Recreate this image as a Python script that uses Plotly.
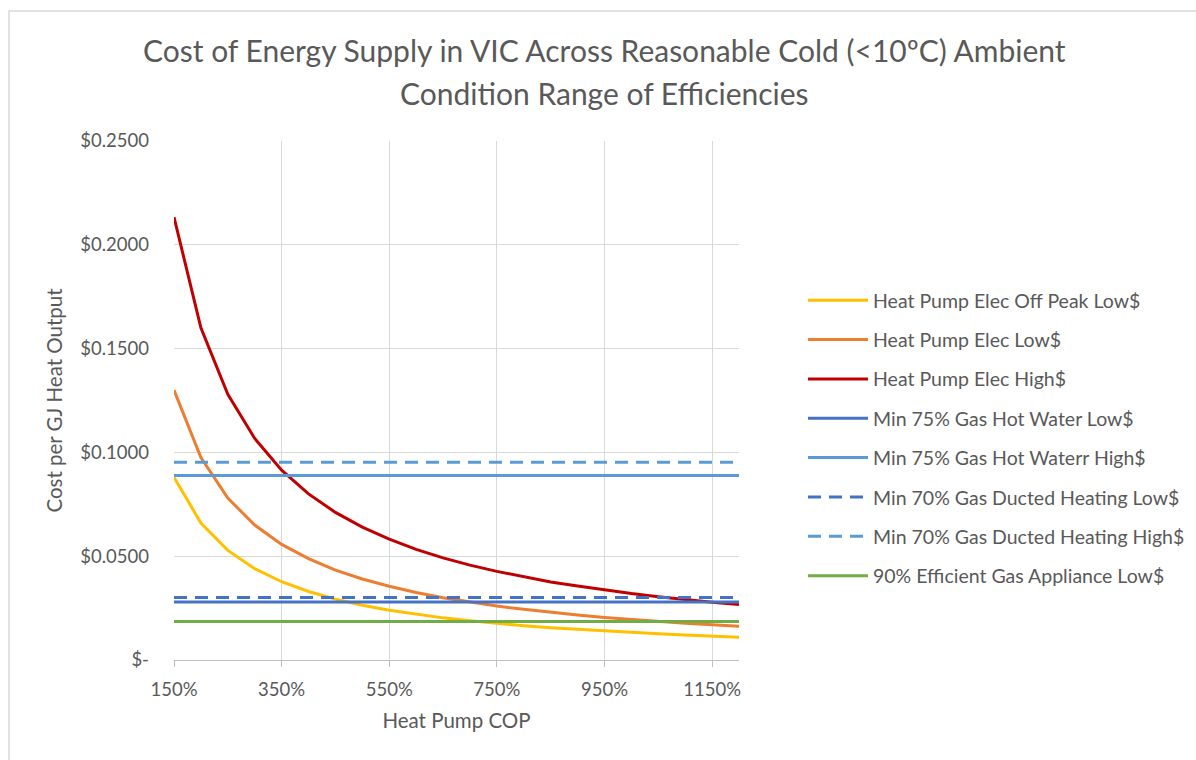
import plotly.graph_objects as go

# ---- data ----
cop_pct = [150, 200, 250, 300, 350, 400, 450, 500, 550, 600, 650, 700,
           750, 800, 850, 900, 950, 1000, 1050, 1100, 1150, 1200]

hp_offpeak_low = [0.0880, 0.0660, 0.0528, 0.0440, 0.0377, 0.0330, 0.0293, 0.0264,
                  0.0240, 0.0220, 0.0203, 0.0189, 0.0176, 0.0165, 0.0155, 0.0147,
                  0.0139, 0.0132, 0.0126, 0.0120, 0.0115, 0.0110]
hp_low = [0.1300, 0.0975, 0.0780, 0.0650, 0.0557, 0.0488, 0.0433, 0.0390,
          0.0355, 0.0325, 0.0300, 0.0279, 0.0260, 0.0244, 0.0229, 0.0217,
          0.0205, 0.0195, 0.0186, 0.0177, 0.0170, 0.0163]
hp_high = [0.2133, 0.1600, 0.1280, 0.1067, 0.0914, 0.0800, 0.0711, 0.0640,
           0.0582, 0.0533, 0.0492, 0.0457, 0.0427, 0.0400, 0.0376, 0.0356,
           0.0337, 0.0320, 0.0305, 0.0291, 0.0278, 0.0267]

gas_hw75_low = 0.0279
gas_hw75_high = 0.0889
gas_duct70_low = 0.0301
gas_duct70_high = 0.0953
gas_90_low = 0.0186

series_names = [
    "Heat Pump Elec Off Peak Low$",
    "Heat Pump Elec Low$",
    "Heat Pump Elec High$",
    "Min 75% Gas Hot Water Low$",
    "Min 75% Gas Hot Waterr High$",
    "Min 70% Gas Ducted Heating Low$",
    "Min 70% Gas Ducted Heating High$",
    "90% Efficient Gas Appliance Low$",
]

y_tick_vals = [0, 0.05, 0.10, 0.15, 0.20, 0.25]
y_tick_text = ["$-", "$0.0500", "$0.1000", "$0.1500", "$0.2000", "$0.2500"]
x_tick_vals = [150, 350, 550, 750, 950, 1150]
x_tick_text = ["150%", "350%", "550%", "750%", "950%", "1150%"]

title_line1 = "Cost of Energy Supply in VIC Across Reasonable Cold (<10ºC) Ambient"
title_line2 = "Condition Range of Efficiencies"

# ---- styles ----
colors = ["#FFC000", "#ED7D31", "#C00000", "#4472C4", "#5B9BD5", "#4472C4", "#5B9BD5", "#70AD47"]
dashes = ["solid", "solid", "solid", "solid", "solid", "13px,8px", "13px,8px", "solid"]

ys = [
    hp_offpeak_low,
    hp_low,
    hp_high,
    [gas_hw75_low] * len(cop_pct),
    [gas_hw75_high] * len(cop_pct),
    [gas_duct70_low] * len(cop_pct),
    [gas_duct70_high] * len(cop_pct),
    [gas_90_low] * len(cop_pct),
]

FONT = "Lato"
TXT = "#595959"

fig = go.Figure()
for i, (name, y) in enumerate(zip(series_names, ys)):
    fig.add_trace(go.Scatter(
        x=cop_pct, y=y, name=name, mode="lines",
        line=dict(color=colors[i], width=3, dash=dashes[i]),
        legendgroup=f"g{i}",
    ))

W, H = 1196, 760
L, R, T, B = 174, 457, 141, 100
pw, ph = W - L - R, H - T - B


def px_to_paper_x(px):
    return (px - L) / pw


def px_to_paper_y(py):
    return (H - B - py) / ph


fig.update_layout(
    width=W, height=H,
    margin=dict(l=L, r=R, t=T, b=B, autoexpand=False),
    paper_bgcolor="white", plot_bgcolor="white",
    font=dict(family=FONT, color=TXT, size=18),
    showlegend=True,
    legend=dict(
        x=px_to_paper_x(803), y=px_to_paper_y(281), xanchor="left", yanchor="top",
        font=dict(size=19.5, color=TXT, family=FONT),
        traceorder="grouped", tracegroupgap=11, itemwidth=60,
        bgcolor="rgba(0,0,0,0)",
    ),
    xaxis=dict(
        range=[150, 1200], tickvals=x_tick_vals, ticktext=x_tick_text,
        showgrid=True, gridcolor="#D9D9D9", gridwidth=1,
        showline=True, linecolor="#BFBFBF", linewidth=1,
        ticks="outside", ticklen=6, tickcolor="#BFBFBF",
        tickfont=dict(size=18.5, color=TXT), zeroline=False, ticklabelstandoff=7,
        title=dict(text="Heat Pump COP", font=dict(size=20.5, color=TXT), standoff=14),
    ),
    yaxis=dict(
        range=[0, 0.25], tickvals=y_tick_vals, ticktext=y_tick_text,
        showgrid=True, gridcolor="#D9D9D9", gridwidth=1,
        showline=False, ticks="", zeroline=False,
        tickfont=dict(size=18.5, color=TXT), ticklabelstandoff=24,
        title=dict(text="Cost per GJ Heat Output", font=dict(size=20.5, color=TXT), standoff=12),
    ),
    annotations=[
        dict(text=title_line1, x=px_to_paper_x(604), y=px_to_paper_y(50), xref="paper", yref="paper",
             xanchor="center", yanchor="middle", showarrow=False, font=dict(size=30, color=TXT, family=FONT)),
        dict(text=title_line2, x=px_to_paper_x(604), y=px_to_paper_y(93), xref="paper", yref="paper",
             xanchor="center", yanchor="middle", showarrow=False, font=dict(size=30, color=TXT, family=FONT)),
    ],
    shapes=[
        dict(type="rect", xref="paper", yref="paper",
             x0=px_to_paper_x(9), x1=px_to_paper_x(1210), y0=px_to_paper_y(780), y1=px_to_paper_y(11),
             line=dict(color="#D9D9D9", width=1.5), fillcolor="rgba(0,0,0,0)", layer="below"),
    ],
)

fig.write_html("out.html")
